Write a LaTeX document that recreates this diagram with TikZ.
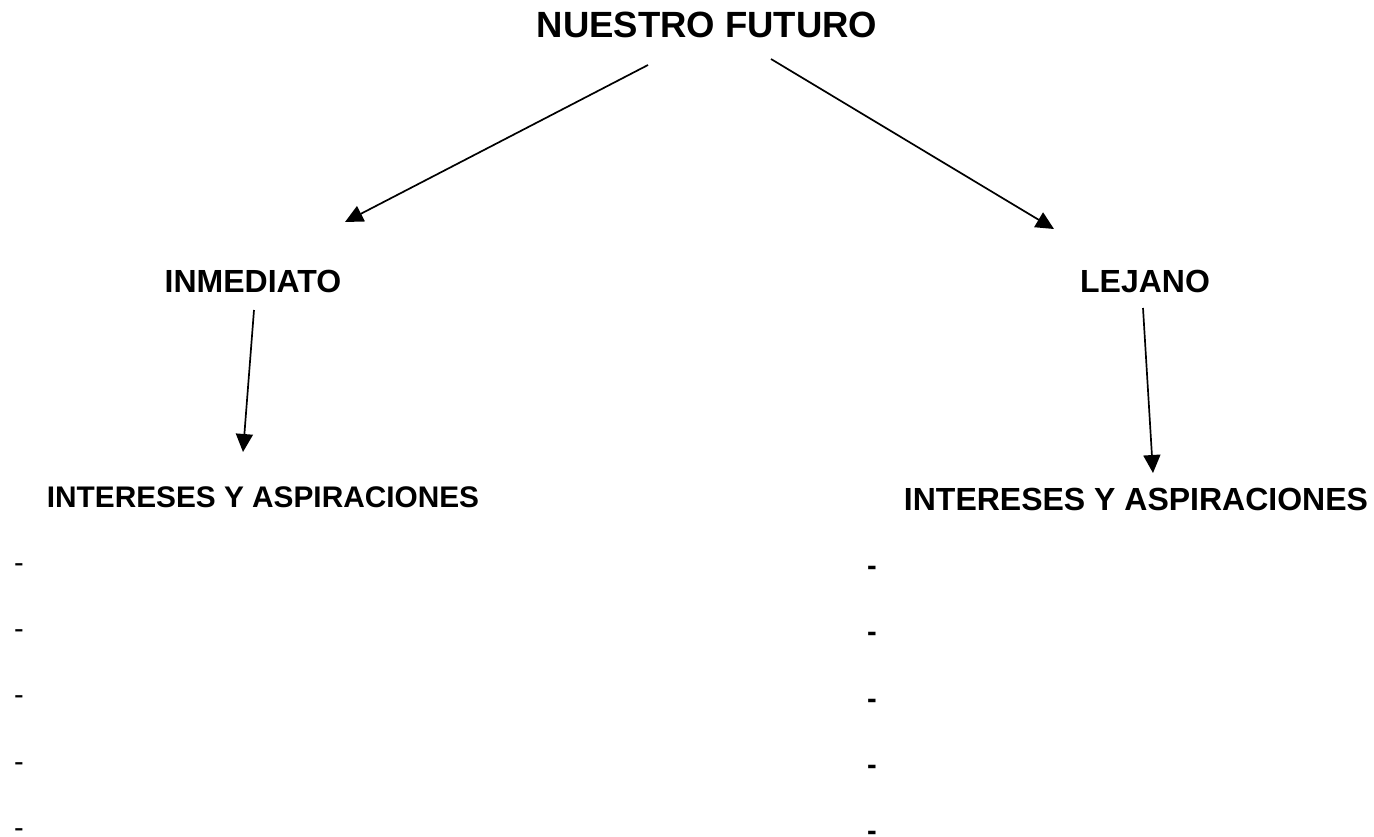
\documentclass[tikz,border=0pt]{standalone}
\usepackage{fontspec}
\setmainfont{Liberation Sans}
\usetikzlibrary{arrows.meta}

\begin{document}
\begin{tikzpicture}[
        x=1pt, y=-1pt,
        title/.style={font=\fontsize{36.5}{40}\selectfont\bfseries, anchor=base, inner sep=0pt},
        label/.style={font=\fontsize{32}{36}\selectfont\bfseries, anchor=base, inner sep=0pt},
        small/.style={font=\fontsize{29.8}{34}\selectfont\bfseries, anchor=base, inner sep=0pt},
        dashmark/.style={font=\fontsize{29}{34}\selectfont, anchor=base, inner sep=0pt},
        boldmark/.style={font=\fontsize{29}{34}\selectfont\bfseries, anchor=base, inner sep=0pt},
        link/.style={-{Triangle[length=18pt, width=17pt]}, line width=1.7pt},
    ]
    \useasboundingbox (0,0) rectangle (1374,836);

    \node[title] (futuro) at (707,37) {NUESTRO FUTURO};

    \node[label] (inmediato) at (253,292) {INMEDIATO};
    \node[label] (lejano) at (1145,292) {LEJANO};

    \node[small] (int1) at (263,507) {INTERESES Y ASPIRACIONES};
    \node[label] (int2) at (1136,510) {INTERESES Y ASPIRACIONES};

    \coordinate (a1) at (648,65);
    \coordinate (b1) at (345,222);
    \coordinate (a2) at (771,59);
    \coordinate (b2) at (1054,229);
    \coordinate (a3) at (254,310);
    \coordinate (b3) at (243,452);
    \coordinate (a4) at (1143,308);
    \coordinate (b4) at (1153,473);

    \draw[link] (a1) -- (b1);
    \draw[link] (a2) -- (b2);
    \draw[link] (a3) -- (b3);
    \draw[link] (a4) -- (b4);

    \node[dashmark] (l1) at (19,572) {-};
    \node[dashmark] (l2) at (19,638) {-};
    \node[dashmark] (l3) at (19,704) {-};
    \node[dashmark] (l4) at (19,771) {-};
    \node[dashmark] (l5) at (19,837) {-};

    \node[boldmark] (r1) at (872,575) {-};
    \node[boldmark] (r2) at (872,641) {-};
    \node[boldmark] (r3) at (872,708) {-};
    \node[boldmark] (r4) at (872,774) {-};
    \node[boldmark] (r5) at (872,840) {-};
\end{tikzpicture}
\end{document}
